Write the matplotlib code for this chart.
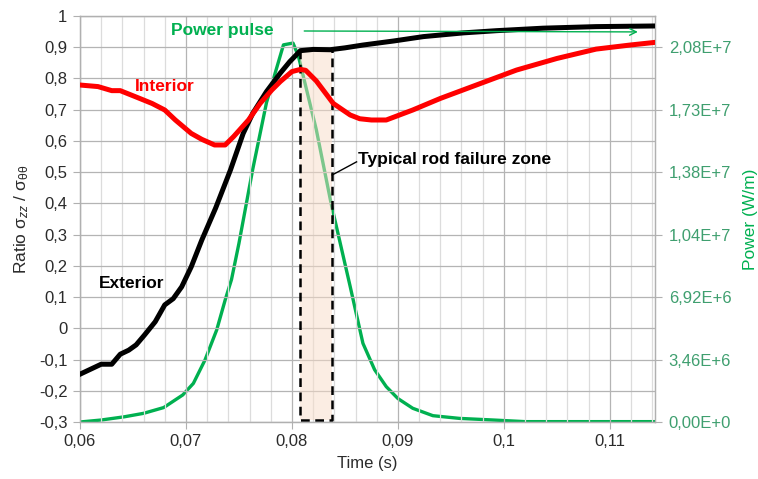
import matplotlib
matplotlib.use("Agg")
import matplotlib.pyplot as plt
from matplotlib.ticker import FixedLocator, FuncFormatter, MultipleLocator

plt.rcParams['font.family'] = ['Liberation Sans', 'DejaVu Sans']
plt.rcParams['mathtext.fontset'] = 'custom'
plt.rcParams['mathtext.rm'] = 'Liberation Sans'
plt.rcParams['mathtext.it'] = 'Liberation Sans:italic'

# Exterior ratio (black)
ext_t = [0.0600, 0.0620, 0.0630, 0.0638, 0.0646, 0.0653, 0.0661, 0.0671, 0.0680,
         0.0688, 0.0696, 0.0705, 0.0715, 0.0728, 0.0742, 0.0754, 0.0763, 0.0776,
         0.0789, 0.0798, 0.0808, 0.0820, 0.0836, 0.0850, 0.0867, 0.0896, 0.0924,
         0.0962, 0.0993, 0.1037, 0.1087, 0.1141]
ext_r = [-0.147, -0.115, -0.115, -0.083, -0.070, -0.053, -0.021, 0.021, 0.075,
         0.095, 0.133, 0.197, 0.283, 0.385, 0.507, 0.624, 0.688, 0.758,
         0.817, 0.854, 0.889, 0.893, 0.892, 0.898, 0.907, 0.920, 0.934,
         0.946, 0.953, 0.961, 0.966, 0.968]

# Interior ratio (red)
int_t = [0.0600, 0.0617, 0.0630, 0.0638, 0.0652, 0.0668, 0.0680, 0.0690, 0.0705,
         0.0715, 0.0727, 0.0737, 0.0745, 0.0759, 0.0770, 0.0781, 0.0789, 0.0800,
         0.0808, 0.0813, 0.0823, 0.0839, 0.0855, 0.0864, 0.0875, 0.0889, 0.0914,
         0.0940, 0.0974, 0.1012, 0.1050, 0.1087, 0.1119, 0.1141]
int_r = [0.779, 0.774, 0.761, 0.761, 0.742, 0.720, 0.699, 0.667, 0.624,
         0.605, 0.587, 0.587, 0.614, 0.667, 0.720, 0.763, 0.790, 0.822,
         0.829, 0.826, 0.792, 0.720, 0.683, 0.671, 0.667, 0.667, 0.699,
         0.736, 0.779, 0.827, 0.864, 0.894, 0.907, 0.915]

# Power pulse (green, W/m)
pow_t = [0.0600, 0.0620, 0.0642, 0.0660, 0.0679, 0.0697, 0.0707, 0.0718, 0.0729,
         0.0737, 0.0743, 0.0750, 0.0763, 0.0776, 0.0792, 0.0801, 0.0806, 0.0823,
         0.0837, 0.0855, 0.0867, 0.0878, 0.0889, 0.0900, 0.0914, 0.0933, 0.0958,
         0.0990, 0.1020, 0.1141]
pow_p = [0.0, 1.1e5, 2.9e5, 4.8e5, 8.0e5, 1.5e6, 2.14e6, 3.44e6, 5.1e6,
         6.76e6, 7.9e6, 9.9e6, 1.4e7, 1.77e7, 2.09e7, 2.10e7, 2.03e7, 1.62e7,
         1.21e7, 7.5e6, 4.36e6, 2.9e6, 1.96e6, 1.3e6, 7.6e5, 3.5e5, 2.0e5,
         1.1e5, 2.0e4, 2.0e4]

# failure zone
zone_t = [0.08075, 0.08377]
zone_r = [-0.295, 0.89]

power_ticks = [k * 2.25e7 / 6.5 for k in range(7)]

GREEN = '#00b050'
TICKGREEN = '#3f9f6f'
GRID_MAJ = '#b4b4b4'
GRID_MIN = '#dcdcdc'

fig = plt.figure(figsize=(7.58, 4.79), dpi=100)
ax = fig.add_axes([0.1055, 0.119, 0.7585, 0.8476])
ax2 = ax.twinx()
ax.set_zorder(ax2.get_zorder() + 1)
ax.patch.set_visible(False)

ax.set_xlim(0.06, 0.11425)
ax.set_ylim(-0.3, 1.0)
ax2.set_ylim(0, 2.25e7)

def comma(v, pos=None):
    s = ('%.4f' % v).rstrip('0').rstrip('.')
    if s == '-0':
        s = '0'
    return s.replace('.', ',')

def sci(v, pos=None):
    if v == 0:
        return '0,00E+0'
    import math
    e = int(math.floor(math.log10(abs(v))))
    m = v / 10 ** e
    return ('%.2f' % m).replace('.', ',') + 'E+%d' % e

ax.xaxis.set_major_locator(MultipleLocator(0.01))
ax.xaxis.set_minor_locator(MultipleLocator(0.002))
ax.yaxis.set_major_locator(MultipleLocator(0.1))
ax.xaxis.set_major_formatter(FuncFormatter(comma))
ax.yaxis.set_major_formatter(FuncFormatter(comma))
ax2.yaxis.set_major_locator(FixedLocator(power_ticks))
ax2.yaxis.set_major_formatter(FuncFormatter(sci))

ax.grid(True, which='major', axis='both', color=GRID_MAJ, lw=0.9, zorder=0)
ax.grid(True, which='minor', axis='x', color=GRID_MIN, lw=0.9, zorder=0)
ax.set_axisbelow(True)

for a in (ax, ax2):
    for s in a.spines.values():
        s.set_color('#b0b0b0')
        s.set_linewidth(0.9)

ax.tick_params(axis='both', which='major', length=5, color='#b0b0b0',
               labelsize=12, labelcolor='#2b2b2b', pad=4)
ax.tick_params(axis='x', which='minor', length=0)
ax2.tick_params(axis='y', length=5, color='#b0b0b0', labelsize=12,
                labelcolor=TICKGREEN, pad=5)

# green power line
ax2.plot(pow_t, pow_p, color=GREEN, lw=2.4, solid_joinstyle='round', zorder=3)

# shaded failure zone
ax.fill_between(zone_t, [zone_r[0]] * 2, [zone_r[1]] * 2, color='#f8dcc8',
                alpha=0.5, lw=0, zorder=1)
ax.plot([zone_t[0], zone_t[0], zone_t[1], zone_t[1]],
        [zone_r[1], zone_r[0], zone_r[0], zone_r[1]],
        color='black', lw=1.8, ls=(0, (3.5, 2.2)), zorder=2)

ax.plot(ext_t, ext_r, color='black', lw=3.6, solid_joinstyle='round', zorder=4)
ax.plot(int_t, int_r, color='#ff0000', lw=3.6, solid_joinstyle='round', zorder=4)

ax.text(0.0680, 0.775, 'Interior', color='#ff0000', fontsize=12.5,
        fontweight='bold', ha='center', va='center', zorder=6)
ax.text(0.0649, 0.144, 'Exterior', color='black', fontsize=12.5,
        fontweight='bold', ha='center', va='center', zorder=6)
ax.text(0.0734, 0.952, 'Power pulse', color=GREEN, fontsize=12.5,
        fontweight='bold', ha='center', va='center', zorder=6)
ax.annotate('', xy=(0.1129, 0.949), xytext=(0.0809, 0.952),
            arrowprops=dict(arrowstyle='->', color=GREEN, lw=1.0,
                            mutation_scale=12), zorder=6)
ax.plot([0.0838, 0.0861], [0.491, 0.533], color='black', lw=1.0, zorder=6)
ax.text(0.0862, 0.539, 'Typical rod failure zone', color='black',
        fontsize=12.5, fontweight='bold', ha='left', va='center', zorder=6)

ax.set_xlabel('Time (s)', fontsize=12, color='#2b2b2b', labelpad=5)
ax.set_ylabel(r'Ratio σ$_{zz}$ / σ$_{\mathrm{θθ}}$', fontsize=12.5,
              color='#2b2b2b', labelpad=6)
ax2.set_ylabel('Power (W/m)', fontsize=12.5, color=GREEN, labelpad=8)

fig.savefig('out.png', dpi=100)
